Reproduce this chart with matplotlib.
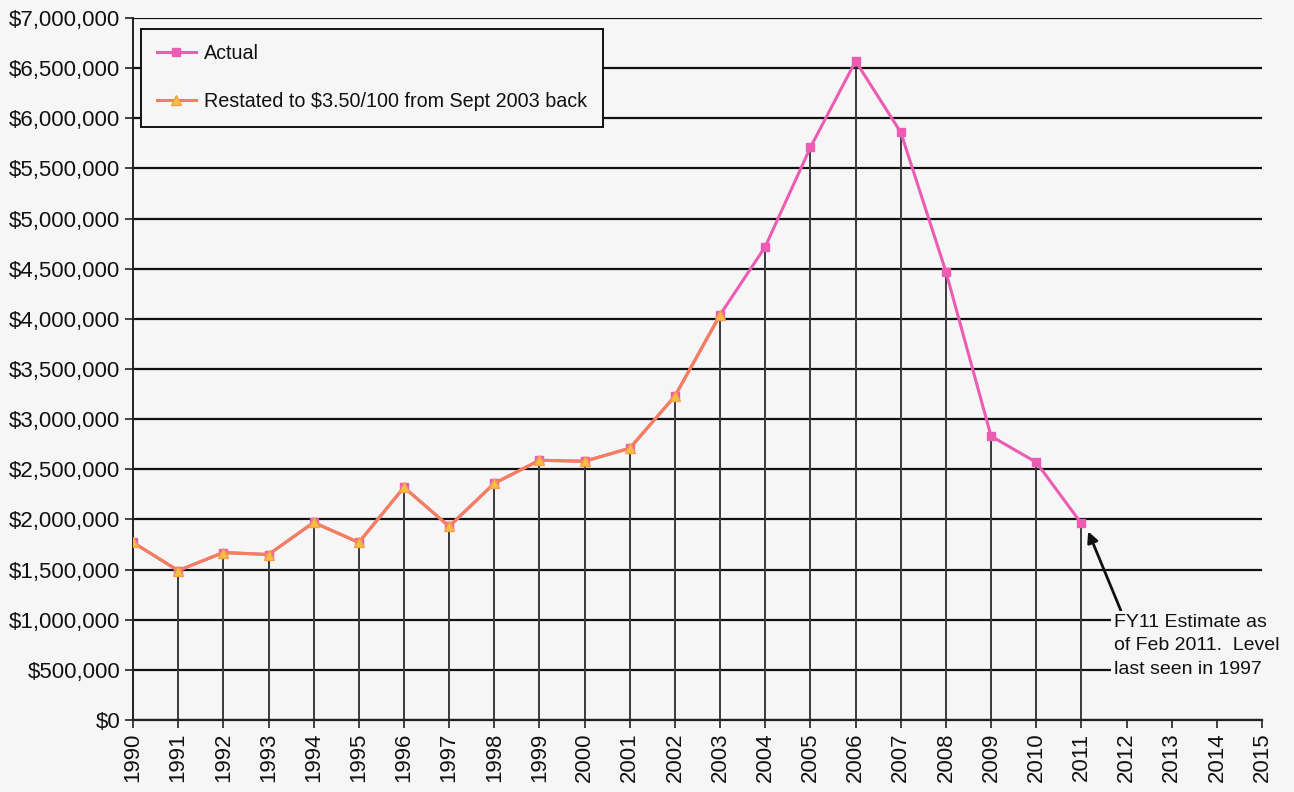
import matplotlib
matplotlib.use("Agg")
import matplotlib.pyplot as plt
from matplotlib.ticker import FuncFormatter, MultipleLocator

plt.rcParams['font.family'] = ['Liberation Sans', 'DejaVu Sans']

years_actual = list(range(1990, 2012))
actual = [1770000, 1490000, 1670000, 1650000, 1970000, 1770000, 2320000,
          1930000, 2360000, 2590000, 2580000, 2710000, 3230000, 4040000,
          4720000, 5710000, 6570000, 5860000, 4470000, 2830000, 2570000,
          1960000]

years_restated = list(range(1990, 2004))
restated = [1770000, 1490000, 1670000, 1650000, 1970000, 1770000, 2320000,
            1930000, 2360000, 2590000, 2580000, 2710000, 3230000, 4040000]

year_ticks = list(range(1990, 2016))
label_actual = "Actual"
label_restated = "Restated to $3.50/100 from Sept 2003 back"
note_text = "FY11 Estimate as\nof Feb 2011.  Level\nlast seen in 1997"

bg = "#f6f6f6"
ink = "#111111"
fig = plt.figure(figsize=(12.94, 7.92), dpi=100, facecolor=bg)
ax = fig.add_axes([0.1028, 0.0909, 0.8725, 0.8864], facecolor=bg)

ax.set_xlim(1990, 2015)
ax.set_ylim(0, 7000000)

# horizontal gridlines
ax.yaxis.set_major_locator(MultipleLocator(500000))
ax.grid(axis='y', color=ink, linewidth=1.6, zorder=1)
ax.grid(axis='x', visible=False)

# drop lines from each actual point to the axis
ax.vlines(years_actual, 0, actual, colors='#3a3a3a', linewidth=1.4, zorder=2)

ax.plot(years_actual, actual, color='#ec5cb2', linewidth=2.2, marker='s',
        markersize=6, markerfacecolor='#ec5cb2', markeredgecolor='#ec5cb2',
        label=label_actual, zorder=4)
ax.plot(years_restated, restated, color='#f57f5c', linewidth=2.2, marker='^',
        markersize=7, markerfacecolor='#f5c040', markeredgecolor='#f5a050',
        label=label_restated, zorder=5)

ax.set_xticks(year_ticks)
ax.set_xticklabels([str(y) for y in year_ticks], rotation=90, fontsize=16,
                   color=ink)
ax.yaxis.set_major_formatter(FuncFormatter(lambda v, p: "${:,.0f}".format(v)))
ax.tick_params(axis='y', labelsize=16, labelcolor=ink, length=6, width=1.2,
               color='#222222', pad=3)
ax.tick_params(axis='x', length=6, width=1.2, color='#222222', pad=3)

for side in ('right', 'top'):
    ax.spines[side].set_visible(False)
ax.spines['left'].set_color('#222222')
ax.spines['left'].set_linewidth(1.4)
ax.spines['bottom'].set_color('#222222')
ax.spines['bottom'].set_linewidth(1.6)

leg = ax.legend(loc='upper left', bbox_to_anchor=(0.007, 0.985), fontsize=14.2,
                frameon=True, fancybox=False, edgecolor=ink,
                facecolor=bg, framealpha=1, handlelength=2.0,
                handletextpad=0.4, labelspacing=1.45, borderpad=0.8,
                borderaxespad=0)
leg.get_frame().set_linewidth(1.4)
leg.set_zorder(10)
for t in leg.get_texts():
    t.set_color(ink)

ax.annotate(note_text, xy=(2011.15, 1880000), xytext=(2011.72, 740000),
            fontsize=14, va='center', ha='left', linespacing=1.5, color=ink,
            bbox=dict(boxstyle='square,pad=0.15', facecolor=bg, edgecolor='none'),
            arrowprops=dict(arrowstyle='-|>', color=ink, lw=2,
                            mutation_scale=16, shrinkA=0, shrinkB=0,
                            relpos=(0.05, 1.0)),
            zorder=6, annotation_clip=False)

fig.savefig("out.png", dpi=100, facecolor=bg)
